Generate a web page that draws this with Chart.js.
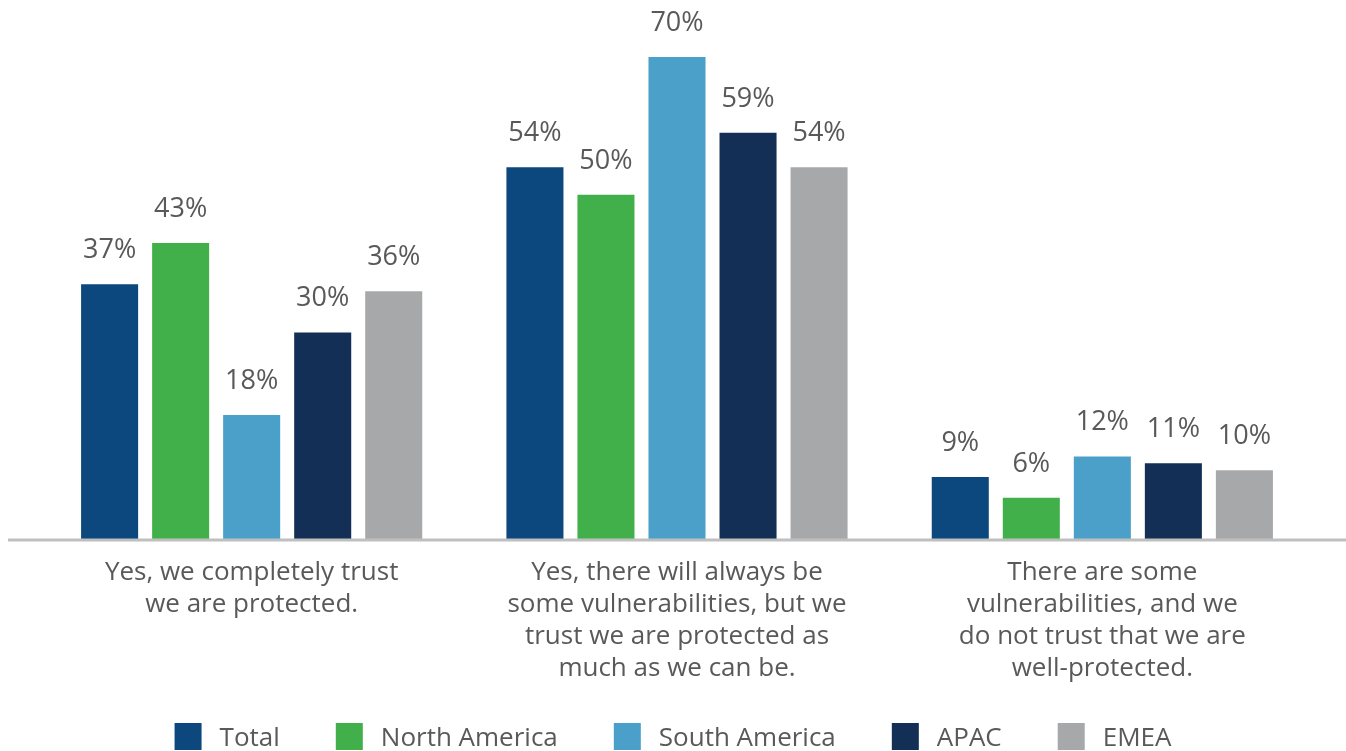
<!DOCTYPE html>
<html>
<head>
<meta charset="utf-8">
<script src="https://cdn.jsdelivr.net/npm/chart.js@4.4.1/dist/chart.umd.min.js"></script>
<style>
  html, body { margin: 0; padding: 0; background: #fff; overflow: hidden; }
  #wrap { width: 1346px; height: 751px; }
</style>
</head>
<body>
<div id="wrap"><canvas id="grafico" width="1346" height="751"></canvas></div>
<script>
const categorias = [
  ['Yes, we completely trust', 'we are protected.'],
  ['Yes, there will always be', 'some vulnerabilities, but we', 'trust we are protected as', 'much as we can be.'],
  ['There are some', 'vulnerabilities, and we', 'do not trust that we are', 'well-protected.']
];
const regiones = ['Total', 'North America', 'South America', 'APAC', 'EMEA'];
const colores = ['#0c477d', '#42b04a', '#4aa0c9', '#132f55', '#a7a8aa'];

const total = [37, 54, 9];
const norteamerica = [43, 50, 6];
const sudamerica = [18, 70, 12];
const apac = [30, 59, 11];
const emea = [36, 54, 10];

const series = [total, norteamerica, sudamerica, apac, emea];
const fuente = "'Open Sans', 'DejaVu Sans', sans-serif";
const gris = '#595959';

// linea base, etiquetas de valor y leyenda propia (la de Chart.js reserva demasiado alto)
const extras = {
  id: 'extras',
  afterDatasetsDraw(chart) {
    const { ctx, chartArea } = chart;
    ctx.save();
    ctx.strokeStyle = '#bfbfbf';
    ctx.lineWidth = 3;
    ctx.beginPath();
    ctx.moveTo(8, chartArea.bottom + 1);
    ctx.lineTo(chart.width, chartArea.bottom + 1);
    ctx.stroke();

    ctx.fillStyle = gris;
    ctx.font = `27px ${fuente}`;
    ctx.textAlign = 'center';
    ctx.textBaseline = 'alphabetic';
    chart.data.datasets.forEach((ds, i) => {
      chart.getDatasetMeta(i).data.forEach((bar, j) => {
        ctx.fillText(ds.data[j] + '%', bar.x, bar.y - 26);
      });
    });

    // leyenda
    ctx.font = `26px ${fuente}`;
    ctx.textAlign = 'left';
    ctx.textBaseline = 'middle';
    const caja = 27, sep = 18, hueco = 56;
    const anchos = chart.data.datasets.map(ds => caja + sep + ctx.measureText(ds.label).width);
    const totalAncho = anchos.reduce((a, b) => a + b, 0) + hueco * (anchos.length - 1);
    let x = (chart.width - totalAncho) / 2;
    const yCaja = 723;
    chart.data.datasets.forEach((ds, i) => {
      ctx.fillStyle = ds.backgroundColor;
      ctx.fillRect(x, yCaja, caja, caja);
      ctx.fillStyle = gris;
      ctx.fillText(ds.label, x + caja + sep, yCaja + 16);
      x += anchos[i] + hueco;
    });
    ctx.restore();
  }
};

new Chart(document.getElementById('grafico'), {
  type: 'bar',
  data: {
    labels: categorias,
    datasets: series.map((d, i) => ({
      label: regiones[i],
      data: d,
      backgroundColor: colores[i],
      categoryPercentage: 0.835,
      barPercentage: 0.803
    }))
  },
  options: {
    responsive: false,
    animation: false,
    layout: { padding: { top: 2, left: 39, right: 31, bottom: 56 } },
    plugins: {
      tooltip: { enabled: false },
      legend: { display: false }
    },
    scales: {
      y: { display: false, min: 0, max: 78 },
      x: {
        grid: { display: false },
        border: { display: false },
        ticks: {
          color: gris,
          font: { family: fuente, size: 26, lineHeight: 1.2308 },
          padding: 10
        }
      }
    }
  },
  plugins: [extras]
});
</script>
</body>
</html>
